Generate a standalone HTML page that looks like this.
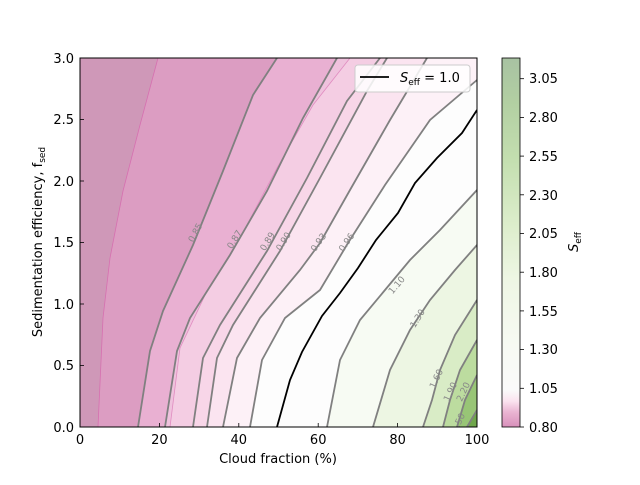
<!DOCTYPE html>
<html><head><style>
body{margin:0;background:#fff;}
svg text{font-family:"DejaVu Sans","Liberation Sans",sans-serif;}
</style></head><body>
<svg width="640" height="480" viewBox="0 0 640 480" xmlns="http://www.w3.org/2000/svg">
<defs>
<linearGradient id="cb" x1="0" y1="1" x2="0" y2="0">
<stop offset="0" stop-color="#d890bb"/>
<stop offset="0.04" stop-color="#eab4d2"/>
<stop offset="0.07" stop-color="#fbe3ef"/>
<stop offset="0.1" stop-color="#fafafa"/>
<stop offset="0.22" stop-color="#f7faf3"/>
<stop offset="0.4" stop-color="#eef6e4"/>
<stop offset="0.55" stop-color="#dcedcb"/>
<stop offset="0.72" stop-color="#c4dfb0"/>
<stop offset="0.88" stop-color="#b2cfa2"/>
<stop offset="1" stop-color="#a8c2a2"/>
</linearGradient>
<clipPath id="pa"><rect x="80" y="58" width="397" height="369"/></clipPath>
</defs>
<g clip-path="url(#pa)">
<rect x="80" y="58" width="397" height="369" fill="#fdfdfd"/>
<!-- pink regions (left of line) -->
<polygon fill="#fdf1f7" points="80,427 250,427 262,360 285,318 320,290 348,243 385,185 430,120 477,80 477,58 80,58"/>
<polygon fill="#fbe4f0" points="80,427 223,427 237,358 260,318 300,270 320,243 350,190 390,120 427,58 80,58"/>
<polygon fill="#f8d6e8" points="80,427 207,427 217,358 233,325 280,251 320,178 367,91 387,58 80,58"/>
<polygon fill="#f4cde3" points="80,427 193,427 203,358 220,325 267,251 307,178 347,101 380,58 80,58"/>
<polygon fill="#efc2dd" points="80,427 170,427 180,348 207,291 240,238 277,168 313,105 350,58 80,58"/>
<polygon fill="#e9b0d2" points="80,427 165,427 177,351 190,318 230,255 267,191 303,118 337,58 80,58"/>
<polygon fill="#e7aacf" points="80,427 138,427 150,351 163,311 193,245 223,171 253,95 277,58 80,58"/>
<polygon fill="#dc9dc2" points="80,427 98,427 103,318 110,258 123,191 140,125 158,58 80,58"/>
<polygon fill="#dc9dc2" points="98,427 138,427 150,351 163,311 193,245 223,171 253,95 277,58 158,58 140,125 123,191 110,258 103,318"/>
<polygon fill="#cf98b8" points="80,427 98,427 103,318 110,258 123,191 140,125 158,58 80,58"/>
<!-- green regions (right of line) -->
<polygon fill="#f7fbf3" points="327,427 340,360 360,320 385,290 410,260 440,230 477,190 477,427"/>
<polygon fill="#edf6e3" points="373,427 390,370 410,330 430,300 455,270 477,245 477,427"/>
<polygon fill="#d9ecc6" points="423,427 432,400 440,370 455,335 477,300 477,427"/>
<polygon fill="#bcdc9f" points="443,427 450,400 460,370 477,340 477,427"/>
<polygon fill="#98c576" points="457,427 465,400 477,375 477,427"/>
<polygon fill="#6fa64b" points="467,427 477,410 477,427"/>
<!-- lines -->
<polyline fill="none" stroke="#d670b0" stroke-width="0.8" points="98,427 103,318 110,258 123,191 140,125 158,58"/>
<polyline fill="none" stroke="#e08cc0" stroke-width="0.8" points="170,427 180,348 207,291 240,238 277,168 313,105 350,58"/>
<g fill="none" stroke="#808080" stroke-width="1.8">
<polyline points="138,427 150,351 163,311 193,245 223,171 253,95 277,58"/>
<polyline points="165,427 177,351 190,318 230,255 267,191 303,118 337,58"/>
<polyline points="193,427 203,358 220,325 267,251 307,178 347,101 380,58"/>
<polyline points="207,427 217,358 233,325 280,251 320,178 367,91 387,58"/>
<polyline points="223,427 237,358 260,318 300,270 320,243 350,190 390,120 427,58"/>
<polyline points="250,427 262,360 285,318 320,290 348,243 385,185 430,120 477,80"/>
<polyline points="327,427 340,360 360,320 385,290 410,260 440,230 477,190"/>
<polyline points="373,427 390,370 410,330 430,300 455,270 477,245"/>
<polyline points="423,427 432,400 440,370 455,335 477,300"/>
<polyline points="443,427 450,400 460,370 477,340"/>
<polyline points="457,427 465,400 477,375"/>
<polyline points="467,427 477,410"/>
</g>
<polyline fill="none" stroke="#000" stroke-width="1.8" points="277,427 290,380 302,352 322,316 340,293 358,268 376,240 398,213 415,183 437,158 462,133 477,110"/>
<g font-size="9" fill="#888">
<text transform="translate(198,234) rotate(-62)" text-anchor="middle">0.85</text>
<text transform="translate(237,241) rotate(-58)" text-anchor="middle">0.87</text>
<text transform="translate(270,243) rotate(-58)" text-anchor="middle">0.89</text>
<text transform="translate(286,243) rotate(-58)" text-anchor="middle">0.90</text>
<text transform="translate(321,244) rotate(-55)" text-anchor="middle">0.93</text>
<text transform="translate(349,244) rotate(-55)" text-anchor="middle">0.96</text>
<text transform="translate(399,287) rotate(-50)" text-anchor="middle">1.10</text>
<text transform="translate(420,320) rotate(-58)" text-anchor="middle">1.30</text>
<text transform="translate(439,380) rotate(-65)" text-anchor="middle">1.60</text>
<text transform="translate(453,393) rotate(-65)" text-anchor="middle">1.90</text>
<text transform="translate(466,393) rotate(-65)" text-anchor="middle">2.20</text>
<text transform="translate(461,424) rotate(-65)" text-anchor="middle">2.50</text>
</g>
</g>
<rect x="80" y="58" width="397" height="369" fill="none" stroke="#000" stroke-width="1"/>
<!-- ticks -->
<g stroke="#000" stroke-width="0.8">
<line x1="80" y1="427" x2="80" y2="423"/><line x1="159.4" y1="427" x2="159.4" y2="423"/><line x1="238.8" y1="427" x2="238.8" y2="423"/><line x1="318.2" y1="427" x2="318.2" y2="423"/><line x1="397.6" y1="427" x2="397.6" y2="423"/><line x1="477" y1="427" x2="477" y2="423"/>
<line x1="80" y1="365.5" x2="84" y2="365.5"/><line x1="80" y1="304" x2="84" y2="304"/><line x1="80" y1="242.5" x2="84" y2="242.5"/><line x1="80" y1="181" x2="84" y2="181"/><line x1="80" y1="119.5" x2="84" y2="119.5"/>
</g>
<g font-size="13" fill="#000" text-anchor="middle">
<text x="80" y="444">0</text><text x="159.4" y="444">20</text><text x="238.8" y="444">40</text><text x="318.2" y="444">60</text><text x="397.6" y="444">80</text><text x="477" y="444">100</text>
</g>
<g font-size="13" fill="#000" text-anchor="end">
<text x="74" y="432">0.0</text><text x="74" y="370">0.5</text><text x="74" y="309">1.0</text><text x="74" y="247">1.5</text><text x="74" y="186">2.0</text><text x="74" y="124">2.5</text><text x="74" y="63">3.0</text>
</g>
<text x="278" y="463" font-size="13" text-anchor="middle">Cloud fraction (%)</text>
<text transform="translate(42,242) rotate(-90)" font-size="13" text-anchor="middle">Sedimentation efficiency, f<tspan font-size="9" dy="3">sed</tspan></text>
<!-- legend -->
<rect x="355" y="65" width="115" height="27" rx="3" fill="#fff" fill-opacity="0.85" stroke="#ccc"/>
<line x1="360" y1="77" x2="389" y2="77" stroke="#000" stroke-width="1.8"/>
<text x="400" y="82" font-size="13"><tspan font-style="italic">S</tspan><tspan font-size="9" dy="3">eff</tspan><tspan dy="-3"> = 1.0</tspan></text>
<!-- colorbar -->
<rect x="502" y="58" width="18" height="369" fill="url(#cb)" stroke="#000" stroke-width="0.8"/>
<g stroke="#000" stroke-width="0.8">
<line x1="520" y1="427" x2="524" y2="427"/><line x1="520" y1="388.3" x2="524" y2="388.3"/><line x1="520" y1="349.6" x2="524" y2="349.6"/><line x1="520" y1="310.9" x2="524" y2="310.9"/><line x1="520" y1="272.2" x2="524" y2="272.2"/><line x1="520" y1="233.5" x2="524" y2="233.5"/><line x1="520" y1="194.8" x2="524" y2="194.8"/><line x1="520" y1="156.1" x2="524" y2="156.1"/><line x1="520" y1="117.4" x2="524" y2="117.4"/><line x1="520" y1="78.7" x2="524" y2="78.7"/>
</g>
<g font-size="13" fill="#000">
<text x="529" y="432">0.80</text><text x="529" y="393">1.05</text><text x="529" y="354">1.30</text><text x="529" y="316">1.55</text><text x="529" y="277">1.80</text><text x="529" y="238">2.05</text><text x="529" y="200">2.30</text><text x="529" y="161">2.55</text><text x="529" y="122">2.80</text><text x="529" y="83">3.05</text>
</g>
<text transform="translate(578,242) rotate(-90)" font-size="13" text-anchor="middle"><tspan font-style="italic">S</tspan><tspan font-size="9" dy="3">eff</tspan></text>
</svg>
</body></html>
